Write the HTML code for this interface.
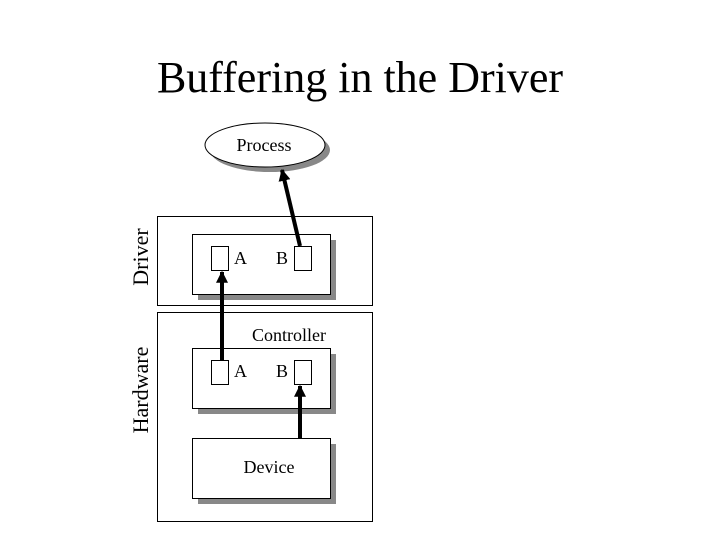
<!DOCTYPE html>
<html><head><style>
body{margin:0;background:#fff}
svg{display:block}
text{font-family:"Liberation Serif",serif;fill:#000}
</style></head><body>
<svg width="720" height="540" viewBox="0 0 720 540">
<defs><marker id="ah" viewBox="0 0 10 10" refX="9" refY="5" markerWidth="3" markerHeight="3" orient="auto"><path d="M0,0L10,5L0,10z" fill="#000"/></marker></defs>
<text x="360" y="92" font-size="44" text-anchor="middle">Buffering in the Driver</text>
<ellipse cx="270" cy="150" rx="60" ry="22" fill="#888"/>
<ellipse cx="265" cy="145" rx="60" ry="22" fill="#fff" stroke="#000" stroke-width="1"/>
<text x="264" y="151" font-size="18" text-anchor="middle">Process</text>
<rect x="157.5" y="216.5" width="215" height="89" fill="#fff" stroke="#000"/>
<text transform="translate(148,257) rotate(-90)" font-size="22" text-anchor="middle">Driver</text>
<rect x="198" y="240" width="138" height="60" fill="#888"/>
<rect x="192.5" y="234.5" width="138" height="60" fill="#fff" stroke="#000"/>
<rect x="211.5" y="246.5" width="17" height="24" fill="#fff" stroke="#000"/>
<rect x="294.5" y="246.5" width="17" height="24" fill="#fff" stroke="#000"/>
<text x="234" y="264" font-size="18">A</text>
<text x="276" y="264" font-size="18">B</text>
<rect x="157.5" y="312.5" width="215" height="209" fill="#fff" stroke="#000"/>
<text transform="translate(148,390) rotate(-90)" font-size="22" text-anchor="middle">Hardware</text>
<text x="289" y="341" font-size="18" text-anchor="middle">Controller</text>
<rect x="198" y="354" width="138" height="60" fill="#888"/>
<rect x="192.5" y="348.5" width="138" height="60" fill="#fff" stroke="#000"/>
<rect x="211.5" y="360.5" width="17" height="24" fill="#fff" stroke="#000"/>
<rect x="294.5" y="360.5" width="17" height="24" fill="#fff" stroke="#000"/>
<text x="234" y="377" font-size="18">A</text>
<text x="276" y="377" font-size="18">B</text>
<rect x="198" y="444" width="138" height="60" fill="#888"/>
<rect x="192.5" y="438.5" width="138" height="60" fill="#fff" stroke="#000"/>
<text x="269" y="473" font-size="18" text-anchor="middle">Device</text>
<line x1="222" y1="360" x2="222" y2="272" stroke="#000" stroke-width="4" marker-end="url(#ah)"/>
<line x1="300" y1="246" x2="282" y2="170" stroke="#000" stroke-width="4" marker-end="url(#ah)"/>
<line x1="300" y1="438" x2="300" y2="386" stroke="#000" stroke-width="4" marker-end="url(#ah)"/>
</svg>
</body></html>
